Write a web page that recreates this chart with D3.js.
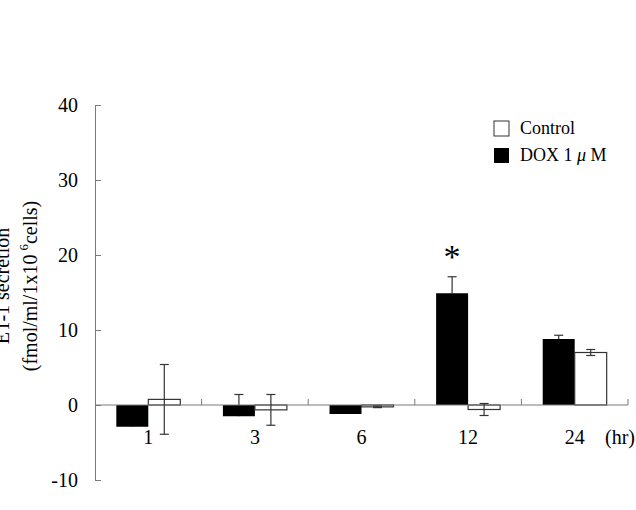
<!DOCTYPE html>
<meta charset="utf-8">
<script src="https://d3js.org/d3.v7.js"></script>
<style>
  body { margin: 0; background: #fff; }
  text { font-family: "Liberation Serif", "Times New Roman", serif; fill: #000; }
</style>
<div id="chart"></div>
<script>
// time points (hr)
var categories = ["1", "3", "6", "12", "24"];
// DOX 1 uM (black bars), error drawn upward only
var doxMeans = [-2.9, -1.5, -1.2, 14.9, 8.8];
var doxErr   = [1.0, 2.9, 0.8, 2.2, 0.5];
// Control (white bars), error drawn both ways
var ctrlMeans = [0.75, -0.65, -0.25, -0.6, 7.0];
var ctrlErr   = [4.65, 2.05, 0.1, 0.8, 0.4];
var yTicks = [-10, 0, 10, 20, 30, 40];
var starAt = "12";

var width = 636, height = 510;
var axisColor = "#7a7a7a";

var svg = d3.select("#chart").append("svg")
  .attr("width", width)
  .attr("height", height);

var y = d3.scaleLinear().domain([-10, 40]).range([480, 105]);
var x = d3.scaleBand().domain(categories).range([95, 628]);
var bw = x.bandwidth() * 0.3;

// y axis, ticks pointing inward
var yAxis = svg.append("g")
  .attr("transform", "translate(95,0)")
  .call(d3.axisLeft(y).tickValues(yTicks).tickFormat(function(d) { return String(d); })
    .tickSizeInner(-6).tickSizeOuter(0).tickPadding(17));
yAxis.select(".domain").attr("stroke", axisColor);
yAxis.selectAll(".tick line").attr("stroke", axisColor);
yAxis.selectAll(".tick text")
  .attr("font-family", "Liberation Serif")
  .attr("font-size", 20)
  .attr("fill", "#000");

var rows = categories.map(function(c, i) {
  return {c: c, dox: doxMeans[i], de: doxErr[i], ctrl: ctrlMeans[i], ce: ctrlErr[i]};
});
var center = function(d) { return x(d.c) + x.bandwidth() / 2; };

// error bars
var cap = 4.5;
function errBar(cx, lo, hi, capLo) {
  var g = svg.append("g").attr("stroke", "#333").attr("stroke-width", 1.2);
  g.append("line").attr("x1", cx).attr("x2", cx).attr("y1", y(lo)).attr("y2", y(hi));
  g.append("line").attr("x1", cx - cap).attr("x2", cx + cap).attr("y1", y(hi)).attr("y2", y(hi));
  if (capLo) g.append("line").attr("x1", cx - cap).attr("x2", cx + cap).attr("y1", y(lo)).attr("y2", y(lo));
}
// DOX error bars sit under their bars, so only the part above shows
rows.forEach(function(d) { errBar(center(d) - bw / 2, d.dox, d.dox + d.de, false); });

svg.selectAll(".dox").data(rows).join("rect")
  .attr("class", "dox")
  .attr("x", function(d) { return center(d) - bw; })
  .attr("width", bw)
  .attr("y", function(d) { return y(Math.max(0, d.dox)); })
  .attr("height", function(d) { return Math.abs(y(d.dox) - y(0)); })
  .attr("fill", "#000");

svg.selectAll(".ctrl").data(rows).join("rect")
  .attr("class", "ctrl")
  .attr("x", function(d) { return center(d); })
  .attr("width", bw)
  .attr("y", function(d) { return y(Math.max(0, d.ctrl)); })
  .attr("height", function(d) { return Math.abs(y(d.ctrl) - y(0)); })
  .attr("fill", "#fff")
  .attr("stroke", "#333")
  .attr("stroke-width", 1.2);

// x axis along zero
svg.append("line")
  .attr("x1", x.range()[0]).attr("x2", x.range()[1])
  .attr("y1", y(0)).attr("y2", y(0))
  .attr("stroke", axisColor);
var bounds = categories.slice(1).map(function(c) { return x(c); }).concat([x.range()[1]]);
svg.selectAll(".xtick").data(bounds).join("line")
  .attr("x1", function(d) { return d; }).attr("x2", function(d) { return d; })
  .attr("y1", y(0)).attr("y2", y(0) - 6)
  .attr("stroke", axisColor);

rows.forEach(function(d) { errBar(center(d) + bw / 2, d.ctrl - d.ce, d.ctrl + d.ce, true); });

// category labels
svg.selectAll(".xlab").data(categories).join("text")
  .attr("x", function(c) { return x(c) + x.bandwidth() / 2; })
  .attr("y", 444)
  .attr("text-anchor", "middle")
  .attr("font-size", 20)
  .text(function(c) { return c; });
svg.append("text").attr("x", 605).attr("y", 444).attr("font-size", 20).text("(hr)");

// significance star
var starRow = rows[categories.indexOf(starAt)];
svg.append("text")
  .attr("x", center(starRow) - bw / 2)
  .attr("y", y(starRow.dox + starRow.de) - 9)
  .attr("text-anchor", "middle")
  .attr("font-size", 34)
  .text("*");

// y label (first line runs off the left edge, as in the original)
var yl = svg.append("g").attr("transform", "translate(0,286) rotate(-90)");
yl.append("text").attr("x", 0).attr("y", 8.5).attr("text-anchor", "middle")
  .attr("font-size", 20).text("ET-1 secretion");
var t2 = yl.append("text").attr("x", 0).attr("y", 37).attr("text-anchor", "middle").attr("font-size", 20);
t2.append("tspan").text("(fmol/ml/1x10");
t2.append("tspan").attr("dx", 4).attr("dy", -9).attr("font-size", 13).text("6");
t2.append("tspan").attr("dy", 9).text("cells)");

// legend
var legend = svg.append("g").attr("transform", "translate(494,121)");
legend.append("rect").attr("width", 15).attr("height", 15)
  .attr("fill", "#fff").attr("stroke", "#333");
legend.append("rect").attr("y", 27).attr("width", 15).attr("height", 15).attr("fill", "#000");
legend.append("text").attr("x", 26).attr("y", 13).attr("font-size", 18).text("Control");
var lt = legend.append("text").attr("x", 26).attr("y", 40).attr("font-size", 18);
lt.append("tspan").text("DOX 1 ");
lt.append("tspan").attr("font-style", "italic").text("\u03bc");
lt.append("tspan").text(" M");
</script>
